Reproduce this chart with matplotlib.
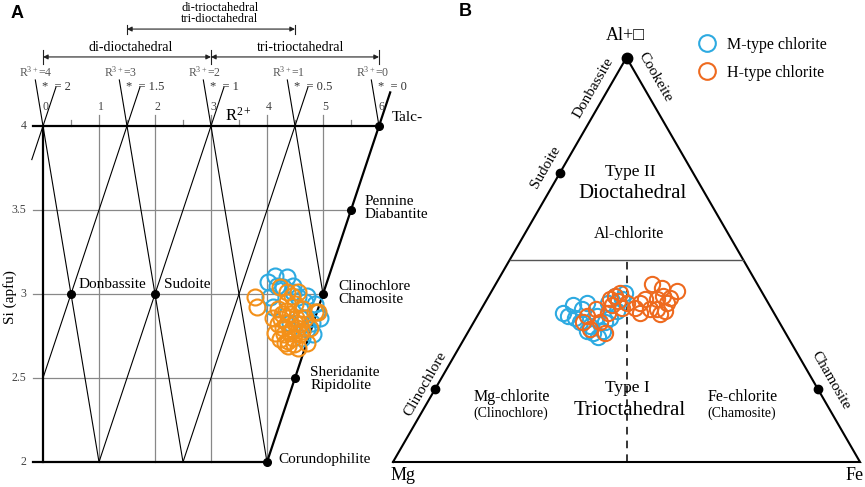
import numpy as np
import matplotlib
matplotlib.use("Agg")
import matplotlib.pyplot as plt
from matplotlib.lines import Line2D

plt.rcParams['font.family'] = ['Liberation Serif', 'DejaVu Sans']
plt.rcParams['mathtext.fontset'] = 'custom'
plt.rcParams['mathtext.rm'] = 'Liberation Serif'
plt.rcParams['mathtext.it'] = 'Liberation Serif:italic'

# ---- panel A data: R2+ (apfu) vs Si (apfu)
m_r2 = [4.14, 4.36, 4.29, 4.18, 4.46, 4.55, 4.68, 4.86, 4.89, 4.80, 4.71,
        4.63, 4.11, 4.05, 4.46, 4.71, 4.82, 4.41, 4.59, 4.95, 4.02]
m_si = [3.11, 3.10, 3.04, 3.05, 3.01, 2.98, 2.95, 2.94, 2.89, 2.83, 2.79,
        2.74, 2.92, 2.98, 3.05, 2.99, 2.76, 2.83, 2.86, 2.86, 3.07]
h_r2 = [3.79, 3.82, 4.23, 4.36, 4.45, 4.55, 4.50, 4.86, 4.91, 4.11, 4.14,
        4.23, 4.38, 4.55, 4.71, 4.77, 4.68, 4.36, 4.41, 4.29, 4.54, 4.46,
        4.27, 4.59, 4.41, 4.20, 4.64, 4.36, 4.32, 4.50, 4.20, 4.59,
        4.30, 4.45, 4.38, 4.25, 4.52, 4.62, 4.34, 4.48]
h_si = [2.98, 2.92, 3.04, 3.01, 2.99, 3.01, 2.94, 2.89, 2.89, 2.86, 2.77,
        2.73, 2.69, 2.68, 2.71, 2.80, 2.86, 2.83, 2.77, 2.80, 2.80, 2.74,
        2.88, 2.76, 2.88, 2.91, 2.91, 2.95, 2.71, 2.83, 2.82, 2.82,
        2.76, 2.79, 2.72, 2.85, 2.86, 2.78, 2.90, 2.70]

# end members in panel A
em_names = ['Talc-', 'Pennine\nDiabantite', 'Clinochlore\nChamosite',
            'Sheridanite\nRipidolite', 'Corundophilite', 'Donbassite', 'Sudoite']
em_r2 = [6, 5.5, 5, 4.5, 4, 0.5, 2]
em_si = [4, 3.5, 3, 2.5, 2, 3, 3]
em_dx = [0.23, 0.25, 0.27, 0.27, 0.21, 0.13, 0.16]
em_dy = [0.048, 0.012, 0.003, -0.003, 0.012, 0.054, 0.054]

r3_vals = [4, 3, 2, 1, 0]
vac_vals = ['2', '1.5', '1', '0.5', '0']
si_ticks = [4, 3.5, 3, 2.5, 2]
r2_ticks = [0, 1, 2, 3, 4, 5, 6]

# ---- panel B data: ternary fractions (Al+vacancy, Fe; Mg = rest)
m_al = [0.362, 0.355, 0.379, 0.392, 0.337, 0.362, 0.325, 0.355, 0.374, 0.404,
        0.318, 0.325, 0.345, 0.394, 0.411, 0.369, 0.308, 0.419, 0.387, 0.345]
m_fe = [0.194, 0.212, 0.215, 0.219, 0.253, 0.256, 0.287, 0.287, 0.293, 0.288,
        0.269, 0.253, 0.228, 0.263, 0.270, 0.179, 0.285, 0.287, 0.192, 0.281]
h_al = [0.362, 0.330, 0.345, 0.345, 0.320, 0.387, 0.399, 0.382, 0.394, 0.411,
        0.369, 0.379, 0.419, 0.404, 0.394, 0.404, 0.369, 0.379, 0.404, 0.411,
        0.431, 0.424, 0.394, 0.379, 0.374, 0.367, 0.406, 0.382, 0.441]
h_fe = [0.234, 0.257, 0.234, 0.271, 0.294, 0.275, 0.282, 0.299, 0.304, 0.270,
        0.276, 0.245, 0.277, 0.263, 0.332, 0.338, 0.345, 0.361, 0.363, 0.373,
        0.361, 0.396, 0.390, 0.376, 0.395, 0.388, 0.390, 0.327, 0.334]

tern_names = ['Sudoite', 'Clinochlore', 'Chamosite']
tern_al = [0.715, 0.18, 0.18]
tern_fe = [0.0, 0.0, 0.82]

BLUE = '#2DAAE1'
ORANGE_A = '#F39019'
ORANGE_B = '#EE6A1F'
GRAY = '#888888'

H = np.sqrt(3) / 2


def tern(al, fe):
    al = np.asarray(al, float)
    fe = np.asarray(fe, float)
    return fe + al / 2, al * H


fig = plt.figure(figsize=(8.65, 4.87), dpi=100)

# ================= panel A =================
ax1 = fig.add_axes([0, 0, 435 / 865, 1])
ax1.set_xlim(-43 / 56, (435 - 43) / 56)
ax1.set_ylim(2 - 25 / 168, 4 + 126 / 168)
ax1.axis('off')

# grid lines
for si in [3.5, 3, 2.5]:
    ax1.plot([-0.18, si + 2], [si, si], color=GRAY, lw=0.9)
for k in range(1, 6):
    ax1.plot([k, k], [max(2, k - 2), 4.065], color=GRAY, lw=0.9)
for k in np.arange(0.5, 6, 1.0):
    ax1.plot([k, k], [4, 4.036], color=GRAY, lw=0.9)

# R3+ lines and vacancy lines
for r3 in r3_vals:
    x0 = 6 - 1.5 * r3
    si_low = 2 if x0 <= 3 else (3 if x0 < 6 else 4)
    si = np.array([4.274, si_low])
    ax1.plot(x0 + 0.5 * (4 - si), si, color='k', lw=0.8)
for v in vac_vals:
    x0 = 6 - 3 * float(v)
    si_low = max(2, 4 - x0) if x0 > 0 else 3.8
    si = np.array([4.232, si_low])
    if x0 < 6:
        ax1.plot(x0 + (si - 4), si, color='k', lw=0.8)

# outline
ax1.plot([-0.18, 6], [4, 4], color='k', lw=1.6)
ax1.plot([-0.18, 4], [2, 2], color='k', lw=1.6)
ax1.plot([0, 0], [2, 4], color='k', lw=1.6)
ax1.plot([4, 6.2], [2, 4.2], color='k', lw=1.6)

# data
ax1.plot(m_r2, m_si, 'o', ls='none', ms=11.5, mfc='none', mec=BLUE, mew=1.5)
ax1.plot(h_r2, h_si, 'o', ls='none', ms=11.5, mfc='none', mec=ORANGE_A, mew=1.5)

# end members
ax1.plot(em_r2, em_si, 'o', color='k', ms=5.5, ls='none', zorder=5)
for name, x, y, dx, dy in zip(em_names, em_r2, em_si, em_dx, em_dy):
    ax1.text(x + dx, y + dy, name, ha='left', va='center', fontsize=11,
             linespacing=1.0)

# tick labels
for s in si_ticks:
    ax1.text(-0.30, s, f'{s:g}', ha='right', va='center', fontsize=8.5,
             color='#444444')
for k in r2_ticks:
    ax1.text(k + 0.04, 4.113, str(k), ha='center', va='center', fontsize=8.5,
             color='#444444')
ax1.text(3.25, 4.03, r'R$^{2+}$', ha='left', va='baseline', fontsize=12)
ax1.text(-0.589, 2.982, 'Si (apfu)', rotation=90, ha='center', va='center',
         fontsize=11)

for r3, v in zip(r3_vals, vac_vals):
    x0 = 6 - 1.5 * r3
    ax1.text(x0 - 0.12, 4.321, r'R$^{3+}$=%d' % r3, ha='center', va='center',
             fontsize=8.5, color='#555555')
    ax1.text(x0 - 0.02, 4.232, '*  = ' + v, ha='left', va='center',
             fontsize=9, color='#333333')

# brackets
arrow = dict(arrowstyle='<|-|>', color='#222222', lw=0.8, shrinkA=0, shrinkB=0,
             mutation_scale=7)
for a, b in [(0, 3), (3, 6)]:
    ax1.annotate('', xy=(b, 4.411), xytext=(a, 4.411), arrowprops=arrow)
for x in [0, 3, 6]:
    ax1.plot([x, x], [4.369, 4.452], color='#222222', lw=0.8)
ax1.annotate('', xy=(4.5, 4.577), xytext=(1.5, 4.577), arrowprops=arrow)
for x in [1.5, 4.5]:
    ax1.plot([x, x], [4.548, 4.600], color='#222222', lw=0.8)
ax1.text(1.56, 4.47, 'di-dioctahedral', ha='center', va='center', fontsize=10)
ax1.text(4.60, 4.47, 'tri-trioctahedral', ha='center', va='center', fontsize=10)
ax1.text(3.16, 4.705, 'di-trioctahedral', ha='center', va='center', fontsize=9)
ax1.text(3.16, 4.635, 'tri-dioctahedral', ha='center', va='center', fontsize=9)

# ================= panel B =================
ax2 = fig.add_axes([380 / 865, 0, 485 / 865, 1])
ax2.set_xlim(-13 / 467, 472 / 467)
ax2.set_ylim(-25 / 467, 462 / 467)
ax2.axis('off')
ax2.patch.set_visible(False)

ax2.plot([0, 1, 0.5, 0], [0, 0, H, 0], color='k', lw=1.5, solid_joinstyle='miter')
ax2.plot([0.25, 0.75], [H / 2, H / 2], color='#555555', lw=1.0)
ax2.plot([0.5, 0.5], [0, H / 2], color='k', lw=1.1, ls=(0, (5, 4)))

mx, my = tern(m_al, m_fe)
hx, hy = tern(h_al, h_fe)
ax2.plot(mx, my, 'o', ls='none', ms=11, mfc='none', mec=BLUE, mew=1.5,
         label='M-type chlorite')
ax2.plot(hx, hy, 'o', ls='none', ms=11, mfc='none', mec=ORANGE_B, mew=1.5,
         label='H-type chlorite')

tx, ty = tern(tern_al, tern_fe)
ax2.plot(tx, ty, 'o', color='k', ms=6, ls='none', zorder=5)
ax2.plot([0.5], [H], 'o', color='k', ms=7.5, zorder=5)

# edge labels (al, fe of text centre)
edge_lab = [('Donbassite', 0.925, -0.034, 60), ('Sudoite', 0.729, -0.037, 60),
            ('Clinochlore', 0.193, -0.028, 60), ('Cookeite', 0.952, 0.085, -60),
            ('Chamosite', 0.2015, 0.836, -60)]
for name, a, f, rot in edge_lab:
    x, y = tern(a, f)
    ax2.text(x, y, name, rotation=rot, ha='center', va='center', fontsize=11,
             rotation_mode='anchor')

ax2.text(0.497, 0.914, 'Al+\u25a1', ha='center', va='center', fontsize=13)
ax2.text(0.021, -0.028, 'Mg', ha='center', va='center', fontsize=13)
ax2.text(0.989, -0.028, 'Fe', ha='center', va='center', fontsize=13)
ax2.text(0.509, 0.622, 'Type II', ha='center', va='center', fontsize=12.5)
ax2.text(0.513, 0.575, 'Dioctahedral', ha='center', va='center', fontsize=15)
ax2.text(0.506, 0.488, 'Al-chlorite', ha='center', va='center', fontsize=11.5)
ax2.text(0.502, 0.159, 'Type I', ha='center', va='center', fontsize=12.5)
ax2.text(0.507, 0.111, 'Trioctahedral', ha='center', va='center', fontsize=15)
ax2.text(0.254, 0.140, 'Mg-chlorite', ha='center', va='center', fontsize=11.5)
ax2.text(0.253, 0.104, '(Clinochlore)', ha='center', va='center', fontsize=10)
ax2.text(0.749, 0.140, 'Fe-chlorite', ha='center', va='center', fontsize=11.5)
ax2.text(0.747, 0.104, '(Chamosite)', ha='center', va='center', fontsize=10)

handles = [Line2D([], [], marker='o', ls='none', ms=12, mfc='none', mec=BLUE, mew=1.5),
           Line2D([], [], marker='o', ls='none', ms=12, mfc='none', mec=ORANGE_B, mew=1.5)]
ax2.legend(handles, ['M-type chlorite', 'H-type chlorite'], loc='center left',
           bbox_to_anchor=(699 / 865, 1 - 59 / 487), bbox_transform=fig.transFigure,
           frameon=False, fontsize=11.5, handlelength=1.0, handletextpad=0.75,
           labelspacing=0.75, borderpad=0, borderaxespad=0)

fig.text(17 / 865, 1 - 14 / 487, 'A', ha='center', va='center', fontsize=13,
         fontweight='bold', family='Liberation Sans')
fig.text(465 / 865, 1 - 12 / 487, 'B', ha='center', va='center', fontsize=13,
         fontweight='bold', family='Liberation Sans')

fig.savefig('out.png', dpi=100)
